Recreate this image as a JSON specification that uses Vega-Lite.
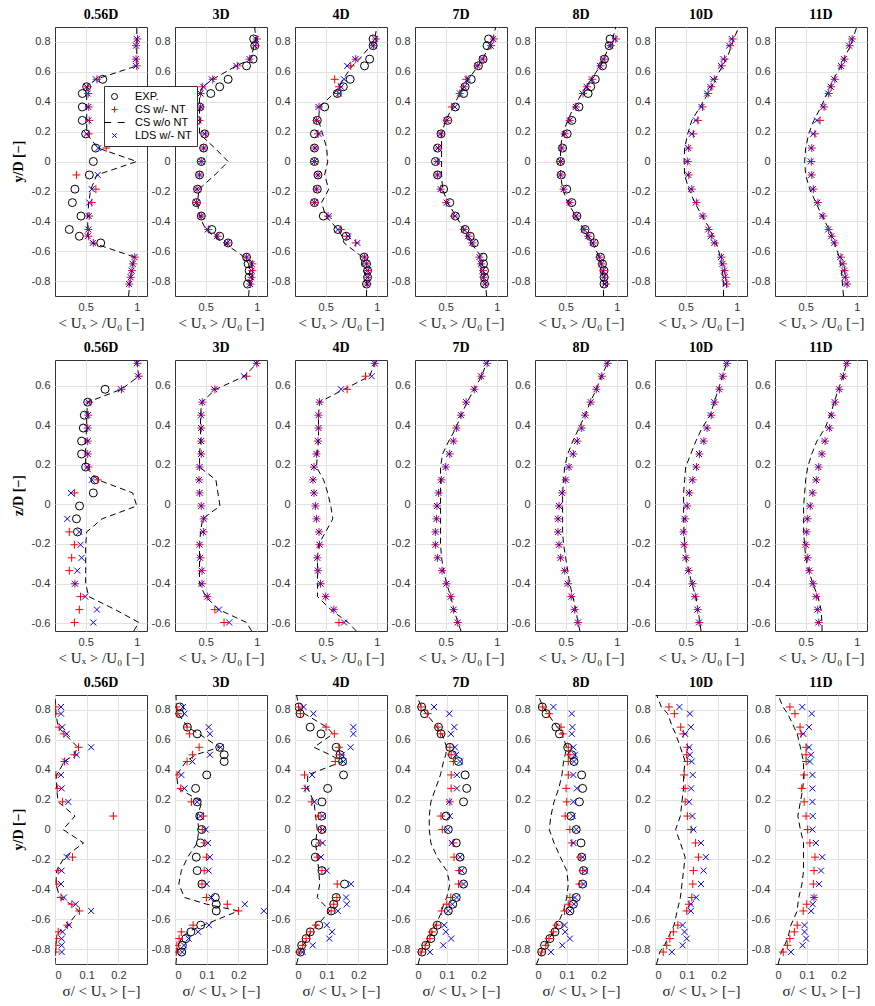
{
"$schema":"https://vega.github.io/schema/vega-lite/v6.json",
"padding":{"left":12,"top":8,"right":5,"bottom":5},
"autosize":{"type":"pad"},
"config":{
"view":{"stroke":"#333","strokeWidth":1},
"axis":{"labelFont":"Liberation Sans","labelFontSize":11,"labelColor":"#333","gridColor":"#e2e2e2","gridWidth":1,"domain":false,"ticks":false,"labelPadding":5,"titleFont":"Liberation Serif","titleFontSize":15,"titleFontWeight":"normal","titleColor":"#222","titlePadding":3},
"header":{"labelFont":"Liberation Serif","labelFontWeight":"bold","labelFontSize":14,"labelColor":"#000"},
"legend":{"symbolSize":36,"symbolStrokeWidth":1,"labelFont":"Liberation Sans","labelFontSize":11,"labelColor":"#000","labelOffset":15,"strokeColor":"#333","fillColor":"white","padding":5,"rowPadding":1}
},
"datasets":{
"r1":[
{"pos":"0.56D","y":0.9,"CSo":1},
{"pos":"0.56D","y":0.82,"CS":1.007,"LDS":1,"CSo":1},
{"pos":"0.56D","y":0.775,"CS":0.993,"LDS":0.993,"CSo":1},
{"pos":"0.56D","y":0.685,"CS":0.993,"LDS":0.99,"CSo":1},
{"pos":"0.56D","y":0.64,"CS":1,"LDS":0.993,"CSo":1},
{"pos":"0.56D","y":0.55,"EXP":0.667,"CS":0.61,"LDS":0.6,"CSo":0.6},
{"pos":"0.56D","y":0.5,"EXP":0.51,"CS":0.52,"LDS":0.51,"CSo":0.51},
{"pos":"0.56D","y":0.455,"EXP":0.467,"CS":0.525,"LDS":0.52,"CSo":0.51},
{"pos":"0.56D","y":0.365,"EXP":0.467,"CS":0.53,"LDS":0.526,"CSo":0.51},
{"pos":"0.56D","y":0.275,"EXP":0.467,"CS":0.535,"LDS":0.526,"CSo":0.51},
{"pos":"0.56D","y":0.185,"EXP":0.5,"CS":0.53,"LDS":0.51,"CSo":0.51},
{"pos":"0.56D","y":0.09,"EXP":0.598,"CS":0.7,"LDS":0.624,"CSo":0.62},
{"pos":"0.56D","y":0,"EXP":0.575,"CSo":1},
{"pos":"0.56D","y":-0.09,"EXP":0.536,"CS":0.41,"LDS":0.618,"CSo":0.61},
{"pos":"0.56D","y":-0.185,"EXP":0.395,"CS":0.6,"LDS":0.56,"CSo":0.55},
{"pos":"0.56D","y":-0.275,"EXP":0.37,"CS":0.56,"LDS":0.535,"CSo":0.53},
{"pos":"0.56D","y":-0.365,"EXP":0.454,"CS":0.535,"LDS":0.53,"CSo":0.52},
{"pos":"0.56D","y":-0.455,"EXP":0.34,"CS":0.526,"LDS":0.526,"CSo":0.52},
{"pos":"0.56D","y":-0.5,"EXP":0.438,"CS":0.526,"LDS":0.52,"CSo":0.52},
{"pos":"0.56D","y":-0.545,"EXP":0.647,"CS":0.575,"LDS":0.57,"CSo":0.57},
{"pos":"0.56D","y":-0.64,"CS":0.98,"LDS":0.977,"CSo":0.98},
{"pos":"0.56D","y":-0.685,"CS":0.963,"LDS":0.96,"CSo":0.96},
{"pos":"0.56D","y":-0.73,"CS":0.953,"LDS":0.95,"CSo":0.95},
{"pos":"0.56D","y":-0.775,"CS":0.94,"LDS":0.94,"CSo":0.94},
{"pos":"0.56D","y":-0.82,"CS":0.925,"LDS":0.925,"CSo":0.93},
{"pos":"0.56D","y":-0.9,"CSo":0.92},
{"pos":"3D","y":0.9,"CSo":0.98},
{"pos":"3D","y":0.82,"EXP":0.97,"CS":1,"LDS":0.99,"CSo":0.99},
{"pos":"3D","y":0.775,"EXP":0.98,"CS":0.99,"LDS":0.98,"CSo":0.975},
{"pos":"3D","y":0.685,"EXP":0.964,"CS":0.93,"LDS":0.93,"CSo":0.94},
{"pos":"3D","y":0.64,"EXP":0.9,"CS":0.81,"LDS":0.8,"CSo":0.8},
{"pos":"3D","y":0.55,"EXP":0.72,"CS":0.57,"LDS":0.56,"CSo":0.57},
{"pos":"3D","y":0.5,"EXP":0.637,"CS":0.467,"LDS":0.477,"CSo":0.47},
{"pos":"3D","y":0.455,"EXP":0.55,"CS":0.45,"LDS":0.45,"CSo":0.44},
{"pos":"3D","y":0.365,"EXP":0.44,"CS":0.45,"LDS":0.45,"CSo":0.44},
{"pos":"3D","y":0.275,"EXP":0.415,"CS":0.44,"LDS":0.43,"CSo":0.44},
{"pos":"3D","y":0.185,"EXP":0.49,"CS":0.497,"LDS":0.49,"CSo":0.44},
{"pos":"3D","y":0.09,"EXP":0.48,"CS":0.48,"LDS":0.48,"CSo":0.59},
{"pos":"3D","y":0,"EXP":0.457,"CS":0.457,"LDS":0.457,"CSo":0.72},
{"pos":"3D","y":-0.09,"EXP":0.44,"CS":0.44,"LDS":0.44,"CSo":0.59},
{"pos":"3D","y":-0.185,"EXP":0.42,"CS":0.415,"LDS":0.415,"CSo":0.435},
{"pos":"3D","y":-0.275,"EXP":0.41,"CS":0.41,"LDS":0.41,"CSo":0.42},
{"pos":"3D","y":-0.365,"EXP":0.457,"CS":0.457,"LDS":0.457,"CSo":0.44},
{"pos":"3D","y":-0.455,"EXP":0.56,"CS":0.526,"LDS":0.52,"CSo":0.5},
{"pos":"3D","y":-0.5,"EXP":0.637,"CS":0.618,"LDS":0.61,"CSo":0.58},
{"pos":"3D","y":-0.545,"EXP":0.72,"CS":0.716,"LDS":0.71,"CSo":0.68},
{"pos":"3D","y":-0.64,"EXP":0.9,"CS":0.9,"LDS":0.9,"CSo":0.88},
{"pos":"3D","y":-0.685,"EXP":0.915,"CS":0.957,"LDS":0.95,"CSo":0.92},
{"pos":"3D","y":-0.73,"EXP":0.925,"CS":0.957,"LDS":0.95,"CSo":0.93},
{"pos":"3D","y":-0.775,"EXP":0.925,"CS":0.948,"LDS":0.945,"CSo":0.93},
{"pos":"3D","y":-0.82,"EXP":0.91,"CS":0.938,"LDS":0.935,"CSo":0.93},
{"pos":"3D","y":-0.9,"CSo":0.92},
{"pos":"4D","y":0.9,"CSo":1},
{"pos":"4D","y":0.82,"EXP":0.964,"CS":0.99,"LDS":0.985,"CSo":0.98},
{"pos":"4D","y":0.775,"EXP":0.964,"CS":0.967,"LDS":0.965,"CSo":0.94},
{"pos":"4D","y":0.685,"EXP":0.93,"CS":0.794,"LDS":0.79,"CSo":0.83},
{"pos":"4D","y":0.64,"EXP":0.88,"CS":0.745,"LDS":0.71,"CSo":0.76},
{"pos":"4D","y":0.55,"EXP":0.74,"CS":0.588,"LDS":0.68,"CSo":0.67},
{"pos":"4D","y":0.5,"EXP":0.673,"CS":0.63,"LDS":0.65,"CSo":0.63},
{"pos":"4D","y":0.455,"EXP":0.614,"CS":0.62,"LDS":0.63,"CSo":0.58},
{"pos":"4D","y":0.365,"EXP":0.49,"CS":0.435,"LDS":0.43,"CSo":0.44},
{"pos":"4D","y":0.275,"EXP":0.418,"CS":0.41,"LDS":0.41,"CSo":0.43},
{"pos":"4D","y":0.185,"EXP":0.39,"CS":0.425,"LDS":0.43,"CSo":0.47},
{"pos":"4D","y":0.09,"EXP":0.39,"CS":0.395,"LDS":0.395,"CSo":0.51},
{"pos":"4D","y":0,"EXP":0.39,"CS":0.39,"LDS":0.39,"CSo":0.52},
{"pos":"4D","y":-0.09,"EXP":0.425,"CS":0.425,"LDS":0.425,"CSo":0.49},
{"pos":"4D","y":-0.185,"EXP":0.418,"CS":0.41,"LDS":0.41,"CSo":0.53},
{"pos":"4D","y":-0.275,"EXP":0.39,"CS":0.39,"LDS":0.39,"CSo":0.46},
{"pos":"4D","y":-0.365,"EXP":0.477,"CS":0.523,"LDS":0.53,"CSo":0.5},
{"pos":"4D","y":-0.455,"EXP":0.62,"CS":0.647,"LDS":0.62,"CSo":0.62},
{"pos":"4D","y":-0.5,"EXP":0.7,"CS":0.706,"LDS":0.72,"CSo":0.66},
{"pos":"4D","y":-0.545,"CS":0.794,"LDS":0.81,"CSo":0.68},
{"pos":"4D","y":-0.64,"EXP":0.876,"CS":0.88,"LDS":0.88,"CSo":0.86},
{"pos":"4D","y":-0.685,"EXP":0.9,"CS":0.9,"LDS":0.9,"CSo":0.85},
{"pos":"4D","y":-0.73,"EXP":0.91,"CS":0.915,"LDS":0.91,"CSo":0.87},
{"pos":"4D","y":-0.775,"EXP":0.91,"CS":0.915,"LDS":0.91,"CSo":0.9},
{"pos":"4D","y":-0.82,"EXP":0.9,"CS":0.908,"LDS":0.905,"CSo":0.9},
{"pos":"4D","y":-0.9,"CSo":0.9},
{"pos":"7D","y":0.9,"CSo":0.99},
{"pos":"7D","y":0.82,"EXP":0.92,"CS":0.97,"LDS":0.965,"CSo":0.96},
{"pos":"7D","y":0.775,"EXP":0.905,"CS":0.944,"LDS":0.94,"CSo":0.93},
{"pos":"7D","y":0.685,"EXP":0.866,"CS":0.866,"LDS":0.86,"CSo":0.86},
{"pos":"7D","y":0.64,"EXP":0.82,"CS":0.81,"LDS":0.81,"CSo":0.82},
{"pos":"7D","y":0.55,"EXP":0.75,"CS":0.7,"LDS":0.715,"CSo":0.72},
{"pos":"7D","y":0.5,"EXP":0.69,"CS":0.676,"LDS":0.68,"CSo":0.68},
{"pos":"7D","y":0.455,"EXP":0.676,"CS":0.637,"LDS":0.64,"CSo":0.64},
{"pos":"7D","y":0.365,"EXP":0.595,"CS":0.56,"LDS":0.59,"CSo":0.57},
{"pos":"7D","y":0.275,"EXP":0.52,"CS":0.51,"LDS":0.51,"CSo":0.5},
{"pos":"7D","y":0.185,"EXP":0.454,"CS":0.454,"LDS":0.45,"CSo":0.46},
{"pos":"7D","y":0.09,"EXP":0.42,"CS":0.43,"LDS":0.425,"CSo":0.46},
{"pos":"7D","y":0,"EXP":0.4,"CS":0.42,"LDS":0.415,"CSo":0.46},
{"pos":"7D","y":-0.09,"EXP":0.42,"CS":0.42,"LDS":0.42,"CSo":0.46},
{"pos":"7D","y":-0.185,"EXP":0.48,"CS":0.45,"LDS":0.45,"CSo":0.47},
{"pos":"7D","y":-0.275,"EXP":0.54,"CS":0.506,"LDS":0.51,"CSo":0.52},
{"pos":"7D","y":-0.365,"EXP":0.595,"CS":0.58,"LDS":0.59,"CSo":0.6},
{"pos":"7D","y":-0.455,"EXP":0.69,"CS":0.676,"LDS":0.68,"CSo":0.68},
{"pos":"7D","y":-0.5,"EXP":0.74,"CS":0.725,"LDS":0.72,"CSo":0.72},
{"pos":"7D","y":-0.545,"EXP":0.78,"CS":0.76,"LDS":0.76,"CSo":0.75},
{"pos":"7D","y":-0.64,"EXP":0.866,"CS":0.83,"LDS":0.83,"CSo":0.85},
{"pos":"7D","y":-0.685,"EXP":0.87,"CS":0.846,"LDS":0.845,"CSo":0.86},
{"pos":"7D","y":-0.73,"EXP":0.88,"CS":0.866,"LDS":0.86,"CSo":0.87},
{"pos":"7D","y":-0.775,"EXP":0.88,"CS":0.87,"LDS":0.87,"CSo":0.88},
{"pos":"7D","y":-0.82,"EXP":0.88,"CS":0.89,"LDS":0.885,"CSo":0.89},
{"pos":"7D","y":-0.9,"CSo":0.9},
{"pos":"8D","y":0.9,"CSo":0.99},
{"pos":"8D","y":0.82,"EXP":0.935,"CS":0.99,"LDS":0.98,"CSo":0.96},
{"pos":"8D","y":0.775,"EXP":0.925,"CS":0.94,"LDS":0.935,"CSo":0.93},
{"pos":"8D","y":0.685,"EXP":0.88,"CS":0.876,"LDS":0.87,"CSo":0.87},
{"pos":"8D","y":0.64,"EXP":0.86,"CS":0.84,"LDS":0.835,"CSo":0.84},
{"pos":"8D","y":0.55,"EXP":0.79,"CS":0.76,"LDS":0.755,"CSo":0.75},
{"pos":"8D","y":0.5,"EXP":0.745,"CS":0.71,"LDS":0.705,"CSo":0.7},
{"pos":"8D","y":0.455,"EXP":0.72,"CS":0.67,"LDS":0.665,"CSo":0.66},
{"pos":"8D","y":0.365,"EXP":0.63,"CS":0.6,"LDS":0.6,"CSo":0.58},
{"pos":"8D","y":0.275,"EXP":0.56,"CS":0.54,"LDS":0.54,"CSo":0.52},
{"pos":"8D","y":0.185,"EXP":0.515,"CS":0.49,"LDS":0.49,"CSo":0.47},
{"pos":"8D","y":0.09,"EXP":0.47,"CS":0.46,"LDS":0.46,"CSo":0.45},
{"pos":"8D","y":0,"EXP":0.45,"CS":0.45,"LDS":0.45,"CSo":0.45},
{"pos":"8D","y":-0.09,"EXP":0.457,"CS":0.45,"LDS":0.45,"CSo":0.45},
{"pos":"8D","y":-0.185,"EXP":0.51,"CS":0.48,"LDS":0.48,"CSo":0.47},
{"pos":"8D","y":-0.275,"EXP":0.56,"CS":0.54,"LDS":0.54,"CSo":0.52},
{"pos":"8D","y":-0.365,"EXP":0.61,"CS":0.6,"LDS":0.6,"CSo":0.6},
{"pos":"8D","y":-0.455,"EXP":0.69,"CS":0.68,"LDS":0.68,"CSo":0.68},
{"pos":"8D","y":-0.5,"EXP":0.74,"CS":0.72,"LDS":0.72,"CSo":0.72},
{"pos":"8D","y":-0.545,"EXP":0.78,"CS":0.77,"LDS":0.765,"CSo":0.76},
{"pos":"8D","y":-0.64,"EXP":0.84,"CS":0.83,"LDS":0.83,"CSo":0.83},
{"pos":"8D","y":-0.685,"EXP":0.86,"CS":0.85,"LDS":0.85,"CSo":0.85},
{"pos":"8D","y":-0.73,"EXP":0.875,"CS":0.87,"LDS":0.865,"CSo":0.86},
{"pos":"8D","y":-0.775,"EXP":0.875,"CS":0.88,"LDS":0.875,"CSo":0.865},
{"pos":"8D","y":-0.82,"EXP":0.875,"CS":0.89,"LDS":0.885,"CSo":0.87},
{"pos":"8D","y":-0.9,"CSo":0.87},
{"pos":"10D","y":0.9,"CSo":1.02},
{"pos":"10D","y":0.82,"CS":0.96,"LDS":0.95,"CSo":0.97},
{"pos":"10D","y":0.775,"CS":0.935,"LDS":0.925,"CSo":0.95},
{"pos":"10D","y":0.685,"CS":0.88,"LDS":0.87,"CSo":0.9},
{"pos":"10D","y":0.64,"CS":0.855,"LDS":0.845,"CSo":0.86},
{"pos":"10D","y":0.55,"CS":0.78,"LDS":0.77,"CSo":0.79},
{"pos":"10D","y":0.5,"CS":0.75,"LDS":0.74,"CSo":0.76},
{"pos":"10D","y":0.455,"CS":0.72,"LDS":0.71,"CSo":0.72},
{"pos":"10D","y":0.365,"CS":0.665,"LDS":0.655,"CSo":0.64},
{"pos":"10D","y":0.275,"CS":0.62,"LDS":0.6,"CSo":0.56},
{"pos":"10D","y":0.185,"CS":0.575,"LDS":0.56,"CSo":0.52},
{"pos":"10D","y":0.09,"CS":0.53,"LDS":0.525,"CSo":0.49},
{"pos":"10D","y":0,"CS":0.52,"LDS":0.515,"CSo":0.485},
{"pos":"10D","y":-0.09,"CS":0.53,"LDS":0.525,"CSo":0.49},
{"pos":"10D","y":-0.185,"CS":0.56,"LDS":0.555,"CSo":0.53},
{"pos":"10D","y":-0.275,"CS":0.605,"LDS":0.6,"CSo":0.59},
{"pos":"10D","y":-0.365,"CS":0.67,"LDS":0.665,"CSo":0.66},
{"pos":"10D","y":-0.455,"CS":0.725,"LDS":0.72,"CSo":0.74},
{"pos":"10D","y":-0.5,"CS":0.75,"LDS":0.745,"CSo":0.77},
{"pos":"10D","y":-0.545,"CS":0.785,"LDS":0.78,"CSo":0.8},
{"pos":"10D","y":-0.64,"CS":0.85,"LDS":0.845,"CSo":0.84},
{"pos":"10D","y":-0.685,"CS":0.865,"LDS":0.86,"CSo":0.85},
{"pos":"10D","y":-0.73,"CS":0.88,"LDS":0.875,"CSo":0.86},
{"pos":"10D","y":-0.775,"CS":0.89,"LDS":0.88,"CSo":0.865},
{"pos":"10D","y":-0.82,"CS":0.9,"LDS":0.89,"CSo":0.87},
{"pos":"10D","y":-0.9,"CSo":0.87},
{"pos":"11D","y":0.9,"CSo":1},
{"pos":"11D","y":0.82,"CS":0.955,"LDS":0.95,"CSo":0.96},
{"pos":"11D","y":0.775,"CS":0.93,"LDS":0.925,"CSo":0.94},
{"pos":"11D","y":0.685,"CS":0.88,"LDS":0.875,"CSo":0.87},
{"pos":"11D","y":0.64,"CS":0.85,"LDS":0.845,"CSo":0.85},
{"pos":"11D","y":0.55,"CS":0.785,"LDS":0.78,"CSo":0.77},
{"pos":"11D","y":0.5,"CS":0.75,"LDS":0.745,"CSo":0.74},
{"pos":"11D","y":0.455,"CS":0.725,"LDS":0.72,"CSo":0.71},
{"pos":"11D","y":0.365,"CS":0.68,"LDS":0.673,"CSo":0.65},
{"pos":"11D","y":0.275,"CS":0.64,"LDS":0.61,"CSo":0.58},
{"pos":"11D","y":0.185,"CS":0.59,"LDS":0.575,"CSo":0.53},
{"pos":"11D","y":0.09,"CS":0.56,"LDS":0.555,"CSo":0.5},
{"pos":"11D","y":0,"CS":0.555,"LDS":0.55,"CSo":0.49},
{"pos":"11D","y":-0.09,"CS":0.56,"LDS":0.555,"CSo":0.5},
{"pos":"11D","y":-0.185,"CS":0.575,"LDS":0.57,"CSo":0.54},
{"pos":"11D","y":-0.275,"CS":0.62,"LDS":0.614,"CSo":0.6},
{"pos":"11D","y":-0.365,"CS":0.67,"LDS":0.663,"CSo":0.66},
{"pos":"11D","y":-0.455,"CS":0.725,"LDS":0.72,"CSo":0.73},
{"pos":"11D","y":-0.5,"CS":0.755,"LDS":0.75,"CSo":0.76},
{"pos":"11D","y":-0.545,"CS":0.785,"LDS":0.78,"CSo":0.78},
{"pos":"11D","y":-0.64,"CS":0.845,"LDS":0.837,"CSo":0.83},
{"pos":"11D","y":-0.685,"CS":0.865,"LDS":0.86,"CSo":0.84},
{"pos":"11D","y":-0.73,"CS":0.88,"LDS":0.875,"CSo":0.85},
{"pos":"11D","y":-0.775,"CS":0.89,"LDS":0.885,"CSo":0.855},
{"pos":"11D","y":-0.82,"CS":0.905,"LDS":0.9,"CSo":0.86},
{"pos":"11D","y":-0.9,"CSo":0.87}
],
"r2":[
{"pos":"0.56D","y":0.73,"CSo":1},
{"pos":"0.56D","y":0.713,"CS":1.007,"LDS":1,"CSo":1},
{"pos":"0.56D","y":0.648,"CS":1.02,"LDS":1.013,"CSo":1.02},
{"pos":"0.56D","y":0.582,"EXP":0.69,"CS":0.85,"LDS":0.845,"CSo":0.85},
{"pos":"0.56D","y":0.517,"EXP":0.52,"CS":0.536,"LDS":0.526,"CSo":0.52},
{"pos":"0.56D","y":0.451,"EXP":0.487,"CS":0.526,"LDS":0.52,"CSo":0.51},
{"pos":"0.56D","y":0.386,"EXP":0.477,"CS":0.52,"LDS":0.52,"CSo":0.51},
{"pos":"0.56D","y":0.32,"EXP":0.46,"CS":0.52,"LDS":0.52,"CSo":0.5},
{"pos":"0.56D","y":0.255,"EXP":0.46,"CS":0.52,"LDS":0.52,"CSo":0.5},
{"pos":"0.56D","y":0.189,"EXP":0.5,"CS":0.526,"LDS":0.516,"CSo":0.5},
{"pos":"0.56D","y":0.124,"EXP":0.59,"CS":0.618,"LDS":0.56,"CSo":0.62},
{"pos":"0.56D","y":0.058,"EXP":0.575,"CS":0.39,"LDS":0.356,"CSo":0.96},
{"pos":"0.56D","y":-0.008,"EXP":0.44,"CSo":1},
{"pos":"0.56D","y":-0.073,"EXP":0.41,"LDS":0.32,"CSo":0.66},
{"pos":"0.56D","y":-0.139,"EXP":0.42,"CS":0.34,"LDS":0.438,"CSo":0.51},
{"pos":"0.56D","y":-0.204,"CS":0.39,"LDS":0.45,"CSo":0.5},
{"pos":"0.56D","y":-0.27,"CS":0.363,"LDS":0.46,"CSo":0.5},
{"pos":"0.56D","y":-0.335,"CS":0.34,"LDS":0.418,"CSo":0.5},
{"pos":"0.56D","y":-0.401,"CS":0.395,"LDS":0.395,"CSo":0.5},
{"pos":"0.56D","y":-0.466,"CS":0.45,"LDS":0.495,"CSo":0.53},
{"pos":"0.56D","y":-0.532,"CS":0.438,"LDS":0.61,"CSo":0.79},
{"pos":"0.56D","y":-0.597,"CS":0.39,"LDS":0.575,"CSo":1.02},
{"pos":"0.56D","y":-0.64,"CSo":0.97},
{"pos":"3D","y":0.73,"CSo":1},
{"pos":"3D","y":0.713,"CS":1,"LDS":0.995,"CSo":1},
{"pos":"3D","y":0.648,"CS":0.9,"LDS":0.875,"CSo":0.88},
{"pos":"3D","y":0.582,"CS":0.59,"LDS":0.585,"CSo":0.6},
{"pos":"3D","y":0.517,"CS":0.467,"LDS":0.467,"CSo":0.46},
{"pos":"3D","y":0.451,"CS":0.457,"LDS":0.455,"CSo":0.45},
{"pos":"3D","y":0.386,"CS":0.457,"LDS":0.455,"CSo":0.45},
{"pos":"3D","y":0.32,"CS":0.457,"LDS":0.455,"CSo":0.45},
{"pos":"3D","y":0.255,"CS":0.457,"LDS":0.455,"CSo":0.44},
{"pos":"3D","y":0.189,"CS":0.44,"LDS":0.44,"CSo":0.44},
{"pos":"3D","y":0.124,"CS":0.435,"LDS":0.435,"CSo":0.6},
{"pos":"3D","y":0.058,"CS":0.44,"LDS":0.44,"CSo":0.62},
{"pos":"3D","y":-0.008,"CS":0.457,"LDS":0.457,"CSo":0.64},
{"pos":"3D","y":-0.073,"CS":0.48,"LDS":0.48,"CSo":0.47},
{"pos":"3D","y":-0.139,"CS":0.48,"LDS":0.474,"CSo":0.45},
{"pos":"3D","y":-0.204,"CS":0.44,"LDS":0.44,"CSo":0.44},
{"pos":"3D","y":-0.27,"CS":0.448,"LDS":0.445,"CSo":0.44},
{"pos":"3D","y":-0.335,"CS":0.464,"LDS":0.46,"CSo":0.44},
{"pos":"3D","y":-0.401,"CS":0.464,"LDS":0.46,"CSo":0.44},
{"pos":"3D","y":-0.466,"CS":0.516,"LDS":0.516,"CSo":0.5},
{"pos":"3D","y":-0.532,"CS":0.59,"LDS":0.63,"CSo":0.63},
{"pos":"3D","y":-0.597,"CS":0.68,"LDS":0.73,"CSo":0.9},
{"pos":"3D","y":-0.64,"CSo":0.95},
{"pos":"4D","y":0.73,"CSo":1},
{"pos":"4D","y":0.713,"CS":0.98,"LDS":0.98,"CSo":0.98},
{"pos":"4D","y":0.648,"CS":0.89,"LDS":0.95,"CSo":0.93},
{"pos":"4D","y":0.582,"CS":0.71,"LDS":0.65,"CSo":0.68},
{"pos":"4D","y":0.517,"CS":0.44,"LDS":0.44,"CSo":0.44},
{"pos":"4D","y":0.451,"CS":0.43,"LDS":0.43,"CSo":0.43},
{"pos":"4D","y":0.386,"CS":0.43,"LDS":0.43,"CSo":0.43},
{"pos":"4D","y":0.32,"CS":0.425,"LDS":0.425,"CSo":0.43},
{"pos":"4D","y":0.255,"CS":0.41,"LDS":0.41,"CSo":0.42},
{"pos":"4D","y":0.189,"CS":0.386,"LDS":0.386,"CSo":0.41},
{"pos":"4D","y":0.124,"CS":0.376,"LDS":0.376,"CSo":0.48},
{"pos":"4D","y":0.058,"CS":0.386,"LDS":0.386,"CSo":0.52},
{"pos":"4D","y":-0.008,"CS":0.4,"LDS":0.4,"CSo":0.55},
{"pos":"4D","y":-0.073,"CS":0.41,"LDS":0.41,"CSo":0.57},
{"pos":"4D","y":-0.139,"CS":0.435,"LDS":0.435,"CSo":0.5},
{"pos":"4D","y":-0.204,"CS":0.44,"LDS":0.44,"CSo":0.43},
{"pos":"4D","y":-0.27,"CS":0.418,"LDS":0.418,"CSo":0.42},
{"pos":"4D","y":-0.335,"CS":0.425,"LDS":0.425,"CSo":0.42},
{"pos":"4D","y":-0.401,"CS":0.45,"LDS":0.45,"CSo":0.42},
{"pos":"4D","y":-0.466,"CS":0.5,"LDS":0.5,"CSo":0.42},
{"pos":"4D","y":-0.532,"CS":0.58,"LDS":0.58,"CSo":0.55},
{"pos":"4D","y":-0.597,"CS":0.63,"LDS":0.68,"CSo":0.72},
{"pos":"4D","y":-0.64,"CSo":0.8},
{"pos":"7D","y":0.73,"CSo":0.92},
{"pos":"7D","y":0.713,"CS":0.905,"LDS":0.9,"CSo":0.9},
{"pos":"7D","y":0.648,"CS":0.85,"LDS":0.845,"CSo":0.85},
{"pos":"7D","y":0.582,"CS":0.78,"LDS":0.78,"CSo":0.78},
{"pos":"7D","y":0.517,"CS":0.7,"LDS":0.7,"CSo":0.71},
{"pos":"7D","y":0.451,"CS":0.65,"LDS":0.65,"CSo":0.65},
{"pos":"7D","y":0.386,"CS":0.605,"LDS":0.605,"CSo":0.6},
{"pos":"7D","y":0.32,"CS":0.578,"LDS":0.575,"CSo":0.53},
{"pos":"7D","y":0.255,"CS":0.54,"LDS":0.535,"CSo":0.47},
{"pos":"7D","y":0.189,"CS":0.5,"LDS":0.5,"CSo":0.45},
{"pos":"7D","y":0.124,"CS":0.458,"LDS":0.458,"CSo":0.45},
{"pos":"7D","y":0.058,"CS":0.43,"LDS":0.43,"CSo":0.45},
{"pos":"7D","y":-0.008,"CS":0.415,"LDS":0.415,"CSo":0.45},
{"pos":"7D","y":-0.073,"CS":0.41,"LDS":0.41,"CSo":0.45},
{"pos":"7D","y":-0.139,"CS":0.4,"LDS":0.4,"CSo":0.45},
{"pos":"7D","y":-0.204,"CS":0.4,"LDS":0.4,"CSo":0.45},
{"pos":"7D","y":-0.27,"CS":0.42,"LDS":0.42,"CSo":0.46},
{"pos":"7D","y":-0.335,"CS":0.464,"LDS":0.464,"CSo":0.48},
{"pos":"7D","y":-0.401,"CS":0.507,"LDS":0.507,"CSo":0.51},
{"pos":"7D","y":-0.466,"CS":0.55,"LDS":0.55,"CSo":0.55},
{"pos":"7D","y":-0.532,"CS":0.578,"LDS":0.578,"CSo":0.58},
{"pos":"7D","y":-0.597,"CS":0.618,"LDS":0.618,"CSo":0.62},
{"pos":"7D","y":-0.64,"CSo":0.65},
{"pos":"8D","y":0.73,"CSo":0.93},
{"pos":"8D","y":0.713,"CS":0.91,"LDS":0.905,"CSo":0.91},
{"pos":"8D","y":0.648,"CS":0.853,"LDS":0.85,"CSo":0.85},
{"pos":"8D","y":0.582,"CS":0.8,"LDS":0.8,"CSo":0.8},
{"pos":"8D","y":0.517,"CS":0.745,"LDS":0.745,"CSo":0.74},
{"pos":"8D","y":0.451,"CS":0.69,"LDS":0.69,"CSo":0.69},
{"pos":"8D","y":0.386,"CS":0.657,"LDS":0.655,"CSo":0.63},
{"pos":"8D","y":0.32,"CS":0.614,"LDS":0.61,"CSo":0.57},
{"pos":"8D","y":0.255,"CS":0.575,"LDS":0.57,"CSo":0.52},
{"pos":"8D","y":0.189,"CS":0.533,"LDS":0.53,"CSo":0.49},
{"pos":"8D","y":0.124,"CS":0.5,"LDS":0.5,"CSo":0.48},
{"pos":"8D","y":0.058,"CS":0.467,"LDS":0.465,"CSo":0.47},
{"pos":"8D","y":-0.008,"CS":0.435,"LDS":0.435,"CSo":0.47},
{"pos":"8D","y":-0.073,"CS":0.425,"LDS":0.425,"CSo":0.47},
{"pos":"8D","y":-0.139,"CS":0.425,"LDS":0.425,"CSo":0.47},
{"pos":"8D","y":-0.204,"CS":0.435,"LDS":0.435,"CSo":0.48},
{"pos":"8D","y":-0.27,"CS":0.45,"LDS":0.45,"CSo":0.5},
{"pos":"8D","y":-0.335,"CS":0.49,"LDS":0.49,"CSo":0.52},
{"pos":"8D","y":-0.401,"CS":0.523,"LDS":0.52,"CSo":0.54},
{"pos":"8D","y":-0.466,"CS":0.555,"LDS":0.555,"CSo":0.57},
{"pos":"8D","y":-0.532,"CS":0.588,"LDS":0.585,"CSo":0.6},
{"pos":"8D","y":-0.597,"CS":0.62,"LDS":0.62,"CSo":0.62},
{"pos":"8D","y":-0.64,"CSo":0.64},
{"pos":"10D","y":0.73,"CSo":0.91},
{"pos":"10D","y":0.713,"CS":0.905,"LDS":0.9,"CSo":0.9},
{"pos":"10D","y":0.648,"CS":0.865,"LDS":0.86,"CSo":0.86},
{"pos":"10D","y":0.582,"CS":0.83,"LDS":0.827,"CSo":0.82},
{"pos":"10D","y":0.517,"CS":0.785,"LDS":0.78,"CSo":0.78},
{"pos":"10D","y":0.451,"CS":0.75,"LDS":0.745,"CSo":0.74},
{"pos":"10D","y":0.386,"CS":0.71,"LDS":0.706,"CSo":0.66},
{"pos":"10D","y":0.32,"CS":0.678,"LDS":0.673,"CSo":0.6},
{"pos":"10D","y":0.255,"CS":0.635,"LDS":0.63,"CSo":0.55},
{"pos":"10D","y":0.189,"CS":0.605,"LDS":0.6,"CSo":0.5},
{"pos":"10D","y":0.124,"CS":0.57,"LDS":0.565,"CSo":0.49},
{"pos":"10D","y":0.058,"CS":0.537,"LDS":0.533,"CSo":0.48},
{"pos":"10D","y":-0.008,"CS":0.515,"LDS":0.51,"CSo":0.48},
{"pos":"10D","y":-0.073,"CS":0.495,"LDS":0.49,"CSo":0.48},
{"pos":"10D","y":-0.139,"CS":0.48,"LDS":0.477,"CSo":0.485},
{"pos":"10D","y":-0.204,"CS":0.487,"LDS":0.484,"CSo":0.49},
{"pos":"10D","y":-0.27,"CS":0.503,"LDS":0.5,"CSo":0.5},
{"pos":"10D","y":-0.335,"CS":0.53,"LDS":0.526,"CSo":0.53},
{"pos":"10D","y":-0.401,"CS":0.568,"LDS":0.565,"CSo":0.56},
{"pos":"10D","y":-0.466,"CS":0.594,"LDS":0.59,"CSo":0.6},
{"pos":"10D","y":-0.532,"CS":0.617,"LDS":0.614,"CSo":0.62},
{"pos":"10D","y":-0.597,"CS":0.633,"LDS":0.63,"CSo":0.64},
{"pos":"10D","y":-0.64,"CSo":0.65},
{"pos":"11D","y":0.73,"CSo":0.91},
{"pos":"11D","y":0.713,"CS":0.905,"LDS":0.9,"CSo":0.9},
{"pos":"11D","y":0.648,"CS":0.87,"LDS":0.866,"CSo":0.866},
{"pos":"11D","y":0.582,"CS":0.83,"LDS":0.827,"CSo":0.82},
{"pos":"11D","y":0.517,"CS":0.79,"LDS":0.784,"CSo":0.78},
{"pos":"11D","y":0.451,"CS":0.755,"LDS":0.75,"CSo":0.74},
{"pos":"11D","y":0.386,"CS":0.735,"LDS":0.73,"CSo":0.69},
{"pos":"11D","y":0.32,"CS":0.69,"LDS":0.686,"CSo":0.61},
{"pos":"11D","y":0.255,"CS":0.66,"LDS":0.657,"CSo":0.56},
{"pos":"11D","y":0.189,"CS":0.628,"LDS":0.624,"CSo":0.52},
{"pos":"11D","y":0.124,"CS":0.604,"LDS":0.6,"CSo":0.5},
{"pos":"11D","y":0.058,"CS":0.57,"LDS":0.565,"CSo":0.49},
{"pos":"11D","y":-0.008,"CS":0.545,"LDS":0.54,"CSo":0.48},
{"pos":"11D","y":-0.073,"CS":0.52,"LDS":0.516,"CSo":0.48},
{"pos":"11D","y":-0.139,"CS":0.51,"LDS":0.507,"CSo":0.48},
{"pos":"11D","y":-0.204,"CS":0.503,"LDS":0.5,"CSo":0.49},
{"pos":"11D","y":-0.27,"CS":0.52,"LDS":0.516,"CSo":0.5},
{"pos":"11D","y":-0.335,"CS":0.537,"LDS":0.533,"CSo":0.53},
{"pos":"11D","y":-0.401,"CS":0.574,"LDS":0.57,"CSo":0.57},
{"pos":"11D","y":-0.466,"CS":0.604,"LDS":0.6,"CSo":0.62},
{"pos":"11D","y":-0.532,"CS":0.618,"LDS":0.614,"CSo":0.65},
{"pos":"11D","y":-0.597,"CS":0.628,"LDS":0.624,"CSo":0.66},
{"pos":"11D","y":-0.64,"CSo":0.66}
],
"r3":[
{"pos":"0.56D","y":0.9,"CSo":0},
{"pos":"0.56D","y":0.82,"CS":0.002,"LDS":0.019,"CSo":0.002},
{"pos":"0.56D","y":0.775,"CS":0.002,"LDS":0.019,"CSo":0.003},
{"pos":"0.56D","y":0.685,"CS":0.013,"LDS":0.023,"CSo":0.01},
{"pos":"0.56D","y":0.64,"CS":0.028,"LDS":0.037,"CSo":0.03},
{"pos":"0.56D","y":0.55,"CS":0.074,"LDS":0.114,"CSo":0.072},
{"pos":"0.56D","y":0.5,"CS":0.061,"LDS":0.068,"CSo":0.06},
{"pos":"0.56D","y":0.455,"CS":0.03,"LDS":0.032,"CSo":0.03},
{"pos":"0.56D","y":0.365,"CS":0.003,"LDS":0.019,"CSo":0.005},
{"pos":"0.56D","y":0.275,"CS":0.007,"LDS":0.021,"CSo":0.005},
{"pos":"0.56D","y":0.185,"CS":0.024,"LDS":0.042,"CSo":0.01},
{"pos":"0.56D","y":0.09,"CS":0.184,"CSo":0.063},
{"pos":"0.56D","y":0,"CSo":0.025},
{"pos":"0.56D","y":-0.09,"CSo":0.09},
{"pos":"0.56D","y":-0.185,"CS":0.055,"LDS":0.037,"CSo":0.03},
{"pos":"0.56D","y":-0.275,"CS":0.01,"LDS":0.021,"CSo":0.005},
{"pos":"0.56D","y":-0.365,"CS":0.005,"LDS":0.019,"CSo":0.003},
{"pos":"0.56D","y":-0.455,"CS":0.019,"LDS":0.028,"CSo":0.015},
{"pos":"0.56D","y":-0.5,"CS":0.053,"LDS":0.065,"CSo":0.05},
{"pos":"0.56D","y":-0.545,"CS":0.077,"LDS":0.114,"CSo":0.075},
{"pos":"0.56D","y":-0.64,"CS":0.039,"LDS":0.044,"CSo":0.04},
{"pos":"0.56D","y":-0.685,"CS":0.01,"LDS":0.024,"CSo":0.012},
{"pos":"0.56D","y":-0.73,"CS":0.005,"LDS":0.021,"CSo":0.005},
{"pos":"0.56D","y":-0.775,"CS":0.003,"LDS":0.021,"CSo":0.003},
{"pos":"0.56D","y":-0.82,"CS":0.002,"LDS":0.021,"CSo":0.002},
{"pos":"0.56D","y":-0.9,"CSo":0},
{"pos":"3D","y":0.9,"CSo":0.003},
{"pos":"3D","y":0.82,"EXP":0.015,"CS":0.004,"LDS":0.025,"CSo":0.005},
{"pos":"3D","y":0.775,"EXP":0.015,"CS":0.009,"LDS":0.03,"CSo":0.01},
{"pos":"3D","y":0.685,"EXP":0.039,"CS":0.038,"LDS":0.106,"CSo":0.04},
{"pos":"3D","y":0.64,"EXP":0.07,"CS":0.046,"LDS":0.11,"CSo":0.075},
{"pos":"3D","y":0.55,"EXP":0.141,"CS":0.076,"LDS":0.144,"CSo":0.14},
{"pos":"3D","y":0.5,"EXP":0.155,"CS":0.055,"LDS":0.11,"CSo":0.065},
{"pos":"3D","y":0.455,"EXP":0.155,"CS":0.038,"LDS":0.055,"CSo":0.035},
{"pos":"3D","y":0.365,"EXP":0.1,"CS":0.006,"LDS":0.02,"CSo":0.005},
{"pos":"3D","y":0.275,"EXP":0.065,"CS":0.018,"LDS":0.03,"CSo":0.01},
{"pos":"3D","y":0.185,"EXP":0.07,"CS":0.052,"LDS":0.07,"CSo":0.085},
{"pos":"3D","y":0.09,"EXP":0.078,"CS":0.09,"LDS":0.08,"CSo":0.07},
{"pos":"3D","y":0,"EXP":0.084,"CS":0.086,"LDS":0.097,"CSo":0.075},
{"pos":"3D","y":-0.09,"EXP":0.08,"CS":0.094,"LDS":0.104,"CSo":0.07},
{"pos":"3D","y":-0.185,"EXP":0.067,"CS":0.099,"LDS":0.11,"CSo":0.04},
{"pos":"3D","y":-0.275,"EXP":0.07,"CS":0.092,"LDS":0.106,"CSo":0.02},
{"pos":"3D","y":-0.365,"EXP":0.085,"CS":0.085,"LDS":0.1,"CSo":0.012},
{"pos":"3D","y":-0.455,"EXP":0.127,"CS":0.099,"LDS":0.115,"CSo":0.03},
{"pos":"3D","y":-0.5,"EXP":0.13,"CS":0.165,"LDS":0.22,"CSo":0.1},
{"pos":"3D","y":-0.545,"EXP":0.13,"CS":0.2,"LDS":0.28,"CSo":0.2},
{"pos":"3D","y":-0.64,"EXP":0.081,"CS":0.057,"LDS":0.107,"CSo":0.09},
{"pos":"3D","y":-0.685,"EXP":0.05,"CS":0.02,"LDS":0.073,"CSo":0.04},
{"pos":"3D","y":-0.73,"EXP":0.034,"CS":0.013,"LDS":0.043,"CSo":0.02},
{"pos":"3D","y":-0.775,"EXP":0.023,"CS":0.006,"LDS":0.028,"CSo":0.01},
{"pos":"3D","y":-0.82,"EXP":0.021,"CS":0.004,"LDS":0.023,"CSo":0.006},
{"pos":"3D","y":-0.9,"CSo":0.003},
{"pos":"4D","y":0.9,"CSo":0.005},
{"pos":"4D","y":0.82,"EXP":0.012,"CS":0.011,"LDS":0.027,"CSo":0.012},
{"pos":"4D","y":0.775,"EXP":0.016,"CS":0.017,"LDS":0.058,"CSo":0.03},
{"pos":"4D","y":0.685,"EXP":0.048,"CS":0.098,"LDS":0.184,"CSo":0.1},
{"pos":"4D","y":0.64,"EXP":0.082,"CS":0.124,"LDS":0.184,"CSo":0.12},
{"pos":"4D","y":0.55,"EXP":0.13,"CS":0.138,"LDS":0.175,"CSo":0.06},
{"pos":"4D","y":0.5,"EXP":0.142,"CS":0.14,"LDS":0.148,"CSo":0.11},
{"pos":"4D","y":0.455,"EXP":0.15,"CS":0.127,"LDS":0.153,"CSo":0.15},
{"pos":"4D","y":0.365,"EXP":0.153,"CS":0.03,"LDS":0.054,"CSo":0.04},
{"pos":"4D","y":0.275,"EXP":0.103,"CS":0.032,"LDS":0.037,"CSo":0.04},
{"pos":"4D","y":0.185,"EXP":0.085,"CS":0.053,"LDS":0.061,"CSo":0.06},
{"pos":"4D","y":0.09,"EXP":0.084,"CS":0.074,"LDS":0.087,"CSo":0.065},
{"pos":"4D","y":0,"EXP":0.085,"CS":0.082,"LDS":0.087,"CSo":0.07},
{"pos":"4D","y":-0.09,"EXP":0.064,"CS":0.079,"LDS":0.087,"CSo":0.065},
{"pos":"4D","y":-0.185,"EXP":0.064,"CS":0.072,"LDS":0.082,"CSo":0.07},
{"pos":"4D","y":-0.275,"EXP":0.085,"CS":0.085,"LDS":0.1,"CSo":0.075},
{"pos":"4D","y":-0.365,"EXP":0.156,"CS":0.133,"LDS":0.177,"CSo":0.078},
{"pos":"4D","y":-0.455,"EXP":0.13,"CS":0.132,"LDS":0.161,"CSo":0.07},
{"pos":"4D","y":-0.5,"EXP":0.122,"CS":0.122,"LDS":0.163,"CSo":0.09},
{"pos":"4D","y":-0.545,"EXP":0.114,"CS":0.114,"LDS":0.135,"CSo":0.11},
{"pos":"4D","y":-0.64,"EXP":0.075,"CS":0.066,"LDS":0.1,"CSo":0.07},
{"pos":"4D","y":-0.685,"EXP":0.048,"CS":0.048,"LDS":0.117,"CSo":0.05},
{"pos":"4D","y":-0.73,"EXP":0.035,"CS":0.035,"LDS":0.108,"CSo":0.04},
{"pos":"4D","y":-0.775,"EXP":0.021,"CS":0.024,"LDS":0.056,"CSo":0.025},
{"pos":"4D","y":-0.82,"EXP":0.017,"CS":0.012,"LDS":0.024,"CSo":0.015},
{"pos":"4D","y":-0.9,"CSo":0.005},
{"pos":"7D","y":0.9,"CSo":0.005},
{"pos":"7D","y":0.82,"EXP":0.021,"CS":0.019,"LDS":0.06,"CSo":0.02},
{"pos":"7D","y":0.775,"EXP":0.03,"CS":0.039,"LDS":0.108,"CSo":0.035},
{"pos":"7D","y":0.685,"EXP":0.074,"CS":0.072,"LDS":0.124,"CSo":0.07},
{"pos":"7D","y":0.64,"EXP":0.082,"CS":0.081,"LDS":0.113,"CSo":0.085},
{"pos":"7D","y":0.55,"EXP":0.11,"CS":0.11,"LDS":0.126,"CSo":0.1},
{"pos":"7D","y":0.5,"EXP":0.118,"CS":0.114,"LDS":0.13,"CSo":0.097},
{"pos":"7D","y":0.455,"EXP":0.137,"CS":0.121,"LDS":0.142,"CSo":0.09},
{"pos":"7D","y":0.365,"EXP":0.158,"CS":0.114,"LDS":0.132,"CSo":0.08},
{"pos":"7D","y":0.275,"EXP":0.163,"CS":0.114,"LDS":0.132,"CSo":0.065},
{"pos":"7D","y":0.185,"EXP":0.153,"CS":0.11,"LDS":0.108,"CSo":0.05},
{"pos":"7D","y":0.09,"EXP":0.098,"CS":0.082,"LDS":0.11,"CSo":0.045},
{"pos":"7D","y":0,"EXP":0.105,"CS":0.086,"LDS":0.103,"CSo":0.045},
{"pos":"7D","y":-0.09,"EXP":0.13,"CS":0.121,"LDS":0.116,"CSo":0.05},
{"pos":"7D","y":-0.185,"EXP":0.142,"CS":0.123,"LDS":0.142,"CSo":0.07},
{"pos":"7D","y":-0.275,"EXP":0.15,"CS":0.139,"LDS":0.147,"CSo":0.1},
{"pos":"7D","y":-0.365,"EXP":0.153,"CS":0.137,"LDS":0.153,"CSo":0.11},
{"pos":"7D","y":-0.455,"EXP":0.13,"CS":0.113,"LDS":0.132,"CSo":0.1},
{"pos":"7D","y":-0.5,"EXP":0.119,"CS":0.1,"LDS":0.118,"CSo":0.09},
{"pos":"7D","y":-0.545,"EXP":0.105,"CS":0.084,"LDS":0.105,"CSo":0.085},
{"pos":"7D","y":-0.64,"EXP":0.07,"CS":0.068,"LDS":0.092,"CSo":0.065},
{"pos":"7D","y":-0.685,"EXP":0.058,"CS":0.053,"LDS":0.097,"CSo":0.055},
{"pos":"7D","y":-0.73,"EXP":0.05,"CS":0.047,"LDS":0.114,"CSo":0.045},
{"pos":"7D","y":-0.775,"EXP":0.034,"CS":0.032,"LDS":0.089,"CSo":0.032},
{"pos":"7D","y":-0.82,"EXP":0.022,"CS":0.019,"LDS":0.047,"CSo":0.02},
{"pos":"7D","y":-0.9,"CSo":0.01},
{"pos":"8D","y":0.9,"CSo":0.01},
{"pos":"8D","y":0.82,"EXP":0.023,"CS":0.024,"LDS":0.058,"CSo":0.025},
{"pos":"8D","y":0.775,"EXP":0.035,"CS":0.044,"LDS":0.116,"CSo":0.04},
{"pos":"8D","y":0.685,"EXP":0.066,"CS":0.082,"LDS":0.118,"CSo":0.07},
{"pos":"8D","y":0.64,"EXP":0.077,"CS":0.087,"LDS":0.116,"CSo":0.085},
{"pos":"8D","y":0.55,"EXP":0.103,"CS":0.105,"LDS":0.121,"CSo":0.1},
{"pos":"8D","y":0.5,"EXP":0.116,"CS":0.11,"LDS":0.126,"CSo":0.095},
{"pos":"8D","y":0.455,"EXP":0.123,"CS":0.105,"LDS":0.123,"CSo":0.09},
{"pos":"8D","y":0.365,"EXP":0.147,"CS":0.105,"LDS":0.121,"CSo":0.085},
{"pos":"8D","y":0.275,"EXP":0.15,"CS":0.098,"LDS":0.132,"CSo":0.075},
{"pos":"8D","y":0.185,"EXP":0.14,"CS":0.1,"LDS":0.121,"CSo":0.06},
{"pos":"8D","y":0.09,"EXP":0.113,"CS":0.095,"LDS":0.119,"CSo":0.05},
{"pos":"8D","y":0,"EXP":0.13,"CS":0.11,"LDS":0.13,"CSo":0.045},
{"pos":"8D","y":-0.09,"EXP":0.145,"CS":0.116,"LDS":0.121,"CSo":0.06},
{"pos":"8D","y":-0.185,"EXP":0.147,"CS":0.142,"LDS":0.15,"CSo":0.08},
{"pos":"8D","y":-0.275,"EXP":0.153,"CS":0.15,"LDS":0.158,"CSo":0.1},
{"pos":"8D","y":-0.365,"EXP":0.15,"CS":0.14,"LDS":0.153,"CSo":0.105},
{"pos":"8D","y":-0.455,"EXP":0.13,"CS":0.11,"LDS":0.126,"CSo":0.1},
{"pos":"8D","y":-0.5,"EXP":0.121,"CS":0.105,"LDS":0.123,"CSo":0.095},
{"pos":"8D","y":-0.545,"EXP":0.11,"CS":0.093,"LDS":0.11,"CSo":0.09},
{"pos":"8D","y":-0.64,"EXP":0.074,"CS":0.068,"LDS":0.093,"CSo":0.07},
{"pos":"8D","y":-0.685,"EXP":0.063,"CS":0.058,"LDS":0.095,"CSo":0.058},
{"pos":"8D","y":-0.73,"EXP":0.047,"CS":0.044,"LDS":0.11,"CSo":0.045},
{"pos":"8D","y":-0.775,"EXP":0.03,"CS":0.034,"LDS":0.086,"CSo":0.032},
{"pos":"8D","y":-0.82,"EXP":0.021,"CS":0.021,"LDS":0.05,"CSo":0.02},
{"pos":"8D","y":-0.9,"CSo":0.005},
{"pos":"10D","y":0.9,"CSo":0.005},
{"pos":"10D","y":0.82,"CS":0.044,"LDS":0.077,"CSo":0.02},
{"pos":"10D","y":0.775,"CS":0.061,"LDS":0.11,"CSo":0.04},
{"pos":"10D","y":0.685,"CS":0.081,"LDS":0.113,"CSo":0.055},
{"pos":"10D","y":0.64,"CS":0.089,"LDS":0.095,"CSo":0.065},
{"pos":"10D","y":0.55,"CS":0.102,"LDS":0.108,"CSo":0.08},
{"pos":"10D","y":0.5,"CS":0.1,"LDS":0.11,"CSo":0.088},
{"pos":"10D","y":0.455,"CS":0.102,"LDS":0.116,"CSo":0.095},
{"pos":"10D","y":0.365,"CS":0.092,"LDS":0.119,"CSo":0.09},
{"pos":"10D","y":0.275,"CS":0.095,"LDS":0.114,"CSo":0.09},
{"pos":"10D","y":0.185,"CS":0.095,"LDS":0.108,"CSo":0.085},
{"pos":"10D","y":0.09,"CS":0.102,"LDS":0.118,"CSo":0.08},
{"pos":"10D","y":0,"CS":0.114,"LDS":0.121,"CSo":0.065},
{"pos":"10D","y":-0.09,"CS":0.128,"LDS":0.145,"CSo":0.08},
{"pos":"10D","y":-0.185,"CS":0.137,"LDS":0.16,"CSo":0.095},
{"pos":"10D","y":-0.275,"CS":0.121,"LDS":0.153,"CSo":0.09},
{"pos":"10D","y":-0.365,"CS":0.119,"LDS":0.145,"CSo":0.085},
{"pos":"10D","y":-0.455,"CS":0.116,"LDS":0.13,"CSo":0.08},
{"pos":"10D","y":-0.5,"CS":0.107,"LDS":0.113,"CSo":0.075},
{"pos":"10D","y":-0.545,"CS":0.1,"LDS":0.113,"CSo":0.07},
{"pos":"10D","y":-0.64,"CS":0.072,"LDS":0.087,"CSo":0.06},
{"pos":"10D","y":-0.685,"CS":0.058,"LDS":0.093,"CSo":0.05},
{"pos":"10D","y":-0.73,"CS":0.047,"LDS":0.1,"CSo":0.04},
{"pos":"10D","y":-0.775,"CS":0.037,"LDS":0.087,"CSo":0.03},
{"pos":"10D","y":-0.82,"CS":0.026,"LDS":0.053,"CSo":0.015},
{"pos":"10D","y":-0.9,"CSo":0.005},
{"pos":"11D","y":0.9,"CSo":0.01},
{"pos":"11D","y":0.82,"CS":0.047,"LDS":0.086,"CSo":0.025},
{"pos":"11D","y":0.775,"CS":0.063,"LDS":0.116,"CSo":0.04},
{"pos":"11D","y":0.685,"CS":0.079,"LDS":0.107,"CSo":0.06},
{"pos":"11D","y":0.64,"CS":0.082,"LDS":0.089,"CSo":0.07},
{"pos":"11D","y":0.55,"CS":0.098,"LDS":0.107,"CSo":0.08},
{"pos":"11D","y":0.5,"CS":0.098,"LDS":0.114,"CSo":0.085},
{"pos":"11D","y":0.455,"CS":0.098,"LDS":0.11,"CSo":0.09},
{"pos":"11D","y":0.365,"CS":0.092,"LDS":0.118,"CSo":0.09},
{"pos":"11D","y":0.275,"CS":0.084,"LDS":0.118,"CSo":0.088},
{"pos":"11D","y":0.185,"CS":0.092,"LDS":0.118,"CSo":0.08},
{"pos":"11D","y":0.09,"CS":0.098,"LDS":0.119,"CSo":0.072},
{"pos":"11D","y":0,"CS":0.103,"LDS":0.118,"CSo":0.08},
{"pos":"11D","y":-0.09,"CS":0.11,"LDS":0.129,"CSo":0.09},
{"pos":"11D","y":-0.185,"CS":0.126,"LDS":0.149,"CSo":0.09},
{"pos":"11D","y":-0.275,"CS":0.123,"LDS":0.145,"CSo":0.09},
{"pos":"11D","y":-0.365,"CS":0.121,"LDS":0.139,"CSo":0.085},
{"pos":"11D","y":-0.455,"CS":0.123,"LDS":0.123,"CSo":0.075},
{"pos":"11D","y":-0.5,"CS":0.1,"LDS":0.119,"CSo":0.072},
{"pos":"11D","y":-0.545,"CS":0.089,"LDS":0.114,"CSo":0.07},
{"pos":"11D","y":-0.64,"CS":0.07,"LDS":0.093,"CSo":0.05},
{"pos":"11D","y":-0.685,"CS":0.061,"LDS":0.093,"CSo":0.045},
{"pos":"11D","y":-0.73,"CS":0.047,"LDS":0.098,"CSo":0.04},
{"pos":"11D","y":-0.775,"CS":0.039,"LDS":0.087,"CSo":0.03},
{"pos":"11D","y":-0.82,"CS":0.026,"LDS":0.05,"CSo":0.02},
{"pos":"11D","y":-0.9,"CSo":0.01}
]
},
"vconcat":[
{
"data":{"name":"r1"},
"transform":[{"calculate":"'y/D  [−]'","as":"yt"},{"fold":["EXP","CS","CSo","LDS"],"as":["series","v"]},{"filter":"isValid(datum.v)"}],
"facet":{"row":{"field":"yt","title":null,"header":{"labelAngle":-90,"labelOrient":"left","labelPadding":22}},"column":{"field":"pos","title":null,"sort":["0.56D","3D","4D","7D","8D","10D","11D"],"header":{"labelPadding":5}}},
"spacing":28,"bounds":"flush",
"resolve":{"axis":{"x":"independent","y":"independent"}},
"spec":{"width":92,"height":269,
"encoding":{
"x":{"field":"v","type":"quantitative","scale":{"domain":[0.2,1.1],"nice":false,"zero":false},"axis":{"values":[0.5,1],"title":"< Uₓ > /U₀  [−]","labelExpr":"format(datum.value,'~g')"}},
"y":{"field":"y","type":"quantitative","scale":{"domain":[-0.9,0.9],"nice":false},"axis":{"values":[-0.8,-0.6,-0.4,-0.2,0,0.2,0.4,0.6,0.8],"title":null,"labelExpr":"(datum.value<0?'-':'')+format(abs(datum.value),'~g')"}}},
"layer":[
{"transform":[{"filter":"datum.series=='CSo'"}],"mark":{"type":"line","color":"black","strokeDash":[6,4],"strokeWidth":1,"clip":true},"encoding":{"order":{"field":"y","type":"quantitative"}}},
{"transform":[{"filter":"datum.series!='CSo'"}],"mark":{"type":"point","filled":false,"size":64,"strokeWidth":1,"opacity":1,"clip":true},
"encoding":{
"shape":{"field":"series","type":"nominal","scale":{"domain":["EXP","CS","CSo","LDS"],"range":["circle","M-1,0H1M0,-1V1","M-5.7,0M-3.4,0H-1.1M1.1,0H3.4","M-0.75,-0.75L0.75,0.75M-0.75,0.75L0.75,-0.75"]},"legend":{"orient":"none","legendX":49,"legendY":59,"title":null,"labelExpr":"datum.label=='EXP'?'EXP.':datum.label=='CS'?'CS w/- NT':datum.label=='CSo'?'CS w/o NT':'LDS w/- NT'"}},
"color":{"field":"series","type":"nominal","scale":{"domain":["EXP","CS","CSo","LDS"],"range":["black","red","black","blue"]},"legend":{"orient":"none","legendX":49,"legendY":59,"title":null,"labelExpr":"datum.label=='EXP'?'EXP.':datum.label=='CS'?'CS w/- NT':datum.label=='CSo'?'CS w/o NT':'LDS w/- NT'"}}}}
]}
},
{
"data":{"name":"r2"},
"transform":[{"calculate":"'z/D  [−]'","as":"yt"},{"fold":["EXP","CS","CSo","LDS"],"as":["series","v"]},{"filter":"isValid(datum.v)"}],
"facet":{"row":{"field":"yt","title":null,"header":{"labelAngle":-90,"labelOrient":"left","labelPadding":22}},"column":{"field":"pos","title":null,"sort":["0.56D","3D","4D","7D","8D","10D","11D"],"header":{"labelPadding":5}}},
"spacing":28,"bounds":"flush",
"resolve":{"axis":{"x":"independent","y":"independent"}},
"spec":{"width":92,"height":271,
"encoding":{
"x":{"field":"v","type":"quantitative","scale":{"domain":[0.2,1.1],"nice":false,"zero":false},"axis":{"values":[0.5,1],"title":"< Uₓ > /U₀  [−]","labelExpr":"format(datum.value,'~g')"}},
"y":{"field":"y","type":"quantitative","scale":{"domain":[-0.64,0.73],"nice":false,"zero":false},"axis":{"values":[-0.6,-0.4,-0.2,0,0.2,0.4,0.6],"title":null,"labelExpr":"(datum.value<0?'-':'')+format(abs(datum.value),'~g')"}}},
"layer":[
{"transform":[{"filter":"datum.series=='CSo'"}],"mark":{"type":"line","color":"black","strokeDash":[6,4],"strokeWidth":1,"clip":true},"encoding":{"order":{"field":"y","type":"quantitative"}}},
{"transform":[{"filter":"datum.series!='CSo'"}],"mark":{"type":"point","filled":false,"size":64,"strokeWidth":1,"opacity":1,"clip":true},
"encoding":{
"shape":{"field":"series","type":"nominal"},
"color":{"field":"series","type":"nominal"}}}
]}
},
{
"data":{"name":"r3"},
"transform":[{"calculate":"'y/D  [−]'","as":"yt"},{"fold":["EXP","CS","CSo","LDS"],"as":["series","v"]},{"filter":"isValid(datum.v)"}],
"facet":{"row":{"field":"yt","title":null,"header":{"labelAngle":-90,"labelOrient":"left","labelPadding":22}},"column":{"field":"pos","title":null,"sort":["0.56D","3D","4D","7D","8D","10D","11D"],"header":{"labelPadding":5}}},
"spacing":28,"bounds":"flush",
"resolve":{"axis":{"x":"independent","y":"independent"}},
"spec":{"width":92,"height":269,
"encoding":{
"x":{"field":"v","type":"quantitative","scale":{"domain":[0,0.29],"nice":false},"axis":{"values":[0,0.1,0.2],"title":"σ/ < Uₓ >   [−]","labelExpr":"format(datum.value,'~g')"}},
"y":{"field":"y","type":"quantitative","scale":{"domain":[-0.9,0.9],"nice":false},"axis":{"values":[-0.8,-0.6,-0.4,-0.2,0,0.2,0.4,0.6,0.8],"title":null,"labelExpr":"(datum.value<0?'-':'')+format(abs(datum.value),'~g')"}}},
"layer":[
{"transform":[{"filter":"datum.series=='CSo'"}],"mark":{"type":"line","color":"black","strokeDash":[6,4],"strokeWidth":1,"clip":true},"encoding":{"order":{"field":"y","type":"quantitative"}}},
{"transform":[{"filter":"datum.series!='CSo'"}],"mark":{"type":"point","filled":false,"size":64,"strokeWidth":1,"opacity":1,"clip":true},
"encoding":{
"shape":{"field":"series","type":"nominal"},
"color":{"field":"series","type":"nominal"}}}
]}
}
],
"spacing":10,
"resolve":{"scale":{"x":"independent","y":"independent"}}
}
